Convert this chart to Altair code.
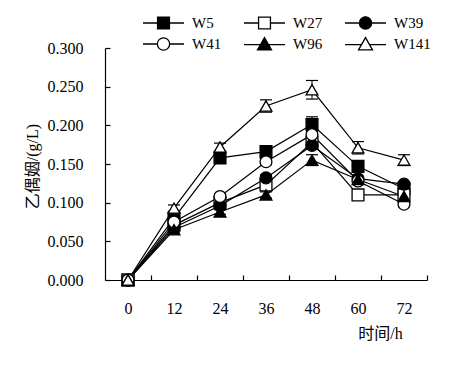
import altair as alt
import pandas as pd

hours = [0, 12, 24, 36, 48, 60, 72]
series_names = ["W5", "W27", "W39", "W41", "W96", "W141"]
W5 = [0.000, 0.080, 0.158, 0.166, 0.201, 0.147, 0.118]
W27 = [0.000, 0.071, 0.100, 0.123, 0.178, 0.110, 0.110]
W39 = [0.000, 0.068, 0.096, 0.132, 0.174, 0.131, 0.124]
W41 = [0.000, 0.075, 0.108, 0.153, 0.188, 0.128, 0.098]
W96 = [0.000, 0.065, 0.088, 0.110, 0.155, 0.130, 0.108]
W141 = [0.000, 0.093, 0.172, 0.225, 0.246, 0.171, 0.155]
err_W5 = [0.0, 0.003, 0.004, 0.004, 0.010, 0.004, 0.003]
err_W27 = [0.0, 0.003, 0.003, 0.004, 0.005, 0.003, 0.003]
err_W39 = [0.0, 0.003, 0.003, 0.004, 0.005, 0.003, 0.003]
err_W41 = [0.0, 0.003, 0.003, 0.004, 0.005, 0.003, 0.003]
err_W96 = [0.0, 0.003, 0.003, 0.004, 0.007, 0.003, 0.003]
err_W141 = [0.0, 0.004, 0.005, 0.008, 0.012, 0.008, 0.007]

y_ticks = [0, 0.05, 0.1, 0.15, 0.2, 0.25, 0.3]
x_labels = [0, 12, 24, 36, 48, 60, 72]
x_ticks = [6, 18, 30, 42, 54, 66, 78]

values = {"W5": W5, "W27": W27, "W39": W39, "W41": W41, "W96": W96, "W141": W141}
errors = {"W5": err_W5, "W27": err_W27, "W39": err_W39, "W41": err_W41,
          "W96": err_W96, "W141": err_W141}

rows = []
for s in series_names:
    for t, v, e in zip(hours, values[s], errors[s]):
        rows.append({"series": s, "t": t, "v": v, "lo": v - e, "hi": v + e})
df = pd.DataFrame(rows)

FONT = "Liberation Serif, Noto Sans CJK SC"

plain_shapes = ["square", "square", "circle", "circle", "triangle-up", "triangle-up"]
fills = ["black", "white", "black", "white", "black", "white"]
sq = "M-1,0H-0.29M0.29,0H1M-0.29,-0.29H0.29V0.29H-0.29Z"
ci = "M-1,0H-0.3M0.3,0H1M-0.3,0A0.3,0.3,0,1,0,0.3,0A0.3,0.3,0,1,0,-0.3,0Z"
tr = "M-1,0.03H-0.2M0.2,0.03H1M0,-0.31L0.34,0.29H-0.34Z"
legend_shapes = [sq, sq, ci, ci, tr, tr]

W, H = 322, 232
x_scale = alt.Scale(domain=[-6, 78], nice=False, zero=False)
y_scale = alt.Scale(domain=[0, 0.3], nice=False)

# main axes: labels and domain line, no ticks
x_axis = alt.Axis(
    values=x_labels,
    ticks=False,
    labelPadding=20,
    grid=False,
    title="时间/h",
    titleX=275,
    titleY=53,
    titleAlign="center",
    titleBaseline="middle",
    titleFontSize=16,
)
y_axis = alt.Axis(
    values=y_ticks,
    format=".3f",
    ticks=False,
    labelPadding=22,
    grid=False,
    title="乙偶姻/(g/L)",
    titleX=-73,
    titleY=118,
    titleAlign="center",
    titleBaseline="middle",
    titleAngle=270,
    titleFontSize=16,
)
# inward ticks: mirrored axes moved onto the plot edges
x_tick_axis = alt.Axis(
    orient="top", offset=-H, values=x_ticks, labels=False, domain=False,
    tickSize=5, grid=False, title=None,
)
y_tick_axis = alt.Axis(
    orient="right", offset=-W, values=y_ticks, labels=False, domain=False,
    tickSize=5, grid=False, title=None,
)

base = alt.Chart(df)

lines = base.mark_line(color="black", strokeWidth=1.2).encode(
    x=alt.X("t:Q", scale=x_scale, axis=x_axis),
    y=alt.Y("v:Q", scale=y_scale, axis=y_axis),
    detail="series:N",
    order="t:Q",
)

bars = base.mark_rule(color="black", strokeWidth=1).encode(
    x=alt.X("t:Q", axis=x_tick_axis),
    y=alt.Y("lo:Q", axis=y_tick_axis),
    y2="hi:Q",
)
caps_hi = base.mark_tick(color="black", thickness=1.2, size=12, orient="horizontal", opacity=1).encode(
    x=alt.X("t:Q", axis=None), y=alt.Y("hi:Q", axis=None)
)
caps_lo = base.mark_tick(color="black", thickness=1.2, size=12, orient="horizontal", opacity=1).encode(
    x=alt.X("t:Q", axis=None), y=alt.Y("lo:Q", axis=None)
)

points = base.mark_point(filled=True, stroke="black", strokeWidth=1.3, size=140, opacity=1).encode(
    x=alt.X("t:Q", axis=None),
    y=alt.Y("v:Q", axis=None),
    shape=alt.Shape("series:N", scale=alt.Scale(domain=series_names, range=plain_shapes), legend=None),
    fill=alt.Fill("series:N", scale=alt.Scale(domain=series_names, range=fills), legend=None),
)

legend_layer = base.transform_filter("false").mark_point(
    filled=True, strokeWidth=1.3, size=1681, opacity=1
).encode(
    x=alt.X("t:Q", axis=None),
    y=alt.Y("v:Q", axis=None),
    shape=alt.Shape(
        "series:N",
        scale=alt.Scale(domain=series_names, range=legend_shapes),
        legend=alt.Legend(
            title=None,
            orient="none",
            legendX=37,
            legendY=-33,
            direction="horizontal",
            columns=3,
            columnPadding=21,
            rowPadding=5,
            clipHeight=16,
            symbolSize=1681,
            symbolStrokeColor="black",
            symbolStrokeWidth=1.3,
            symbolOpacity=1,
            labelFont=FONT,
            labelFontSize=15,
            labelColor="black",
            labelOffset=7,
            padding=0,
        ),
    ),
    fill=alt.Fill("series:N", scale=alt.Scale(domain=series_names, range=fills)),
    stroke=alt.Stroke("series:N", scale=alt.Scale(domain=series_names, range=["black"] * 6)),
)

chart = (
    alt.layer(lines, bars, caps_hi, caps_lo, points, legend_layer)
    .resolve_scale(shape="independent", fill="independent", stroke="independent")
    .resolve_axis(x="independent", y="independent")
    .properties(
        width=W,
        height=H,
        autosize=alt.AutoSizeParams(type="none"),
        padding={"left": 97, "top": 40, "right": 30, "bottom": 80},
    )
    .configure_view(stroke=None)
    .configure_axis(
        domainColor="black",
        domainWidth=1.2,
        tickColor="black",
        tickWidth=1.2,
        labelFont=FONT,
        labelFontSize=16,
        labelColor="black",
        titleFont=FONT,
        titleFontSize=16,
        titleFontWeight="normal",
        titleColor="black",
    )
)

chart.save("out.html", embed_options={"renderer": "svg", "actions": False})
